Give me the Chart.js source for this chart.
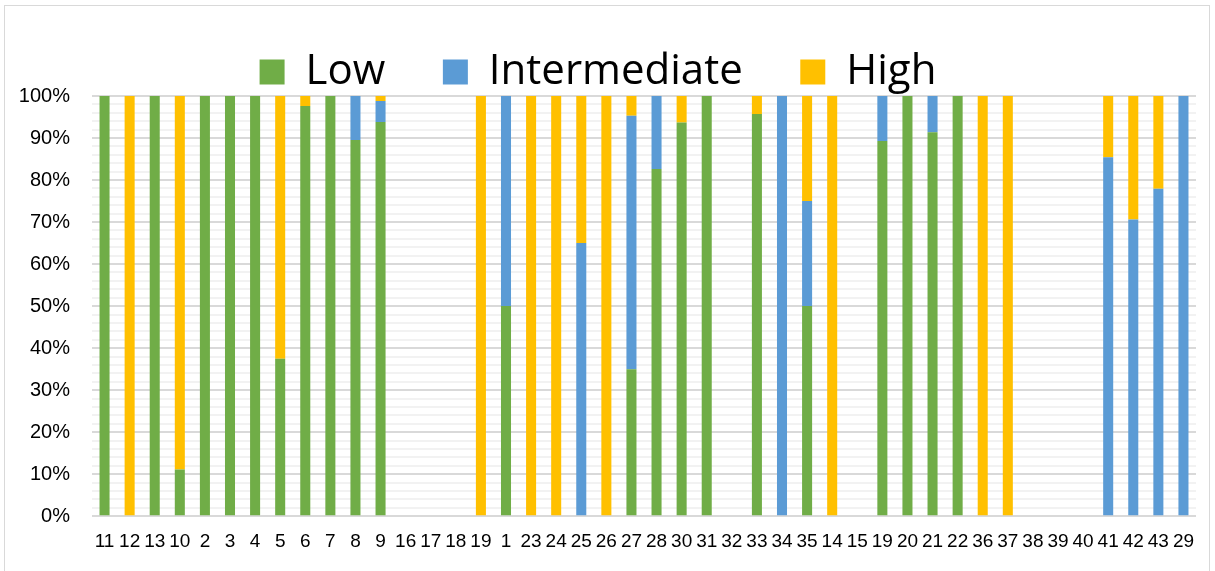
<!DOCTYPE html>
<html>
<head>
<meta charset="utf-8">
<script src="https://cdn.jsdelivr.net/npm/chart.js@4.4.1/dist/chart.umd.min.js"></script>
<style>
	body { margin: 0; background: #fff; }
	#wrap { position: relative; width: 1215px; height: 571px; }
	#frame { position: absolute; left: 4px; top: 5px; width: 1204px; height: 580px; border: 1px solid #d9d9d9; }
	canvas { position: absolute; left: 0; top: 0; }
</style>
</head>
<body>
<div id="wrap">
	<div id="frame"></div>
	<canvas id="stackChart" width="1215" height="571"></canvas>
</div>
<script>
const labels = [ '11', '12', '13', '10', '2', '3', '4', '5', '6', '7', '8', '9', '16', '17', '18', '19', '1', '23', '24', '25', '26', '27', '28', '30', '31', '32', '33', '34', '35', '14', '15', '19', '20', '21', '22', '36', '37', '38', '39', '40', '41', '42', '43', '29' ];

// percent of each group
const low = [ 100, 0, 100, 11.1, 100, 100, 100, 37.5, 97.6, 100, 89.5, 93.8, 0, 0, 0, 0, 50, 0, 0, 0, 0, 35, 82.6, 93.7, 100, 0, 95.7, 0, 50, 0, 0, 89.3, 100, 91.4, 100, 0, 0, 0, 0, 0, 0, 0, 0, 0 ];
const intermediate = [ 0, 0, 0, 0, 0, 0, 0, 0, 0, 0, 10.5, 5, 0, 0, 0, 0, 50, 0, 0, 65, 0, 60.3, 17.4, 0, 0, 0, 0, 100, 25, 0, 0, 10.7, 0, 8.6, 0, 0, 0, 0, 0, 0, 85.4, 70.6, 77.9, 100 ];
const high = [ 0, 100, 0, 88.9, 0, 0, 0, 62.5, 2.4, 0, 0, 1.2, 0, 0, 0, 100, 0, 100, 100, 35, 100, 4.7, 0, 6.3, 0, 0, 4.3, 0, 25, 100, 0, 0, 0, 0, 0, 100, 100, 0, 0, 0, 14.6, 29.4, 22.1, 0 ];

const ctx = document.getElementById('stackChart').getContext('2d');

const stackChart = new Chart(ctx, {
	type: 'bar',

	data: {
		labels: labels,
		datasets: [
			{ label: 'Low', data: low, backgroundColor: '#70AD47' },
			{ label: 'Intermediate', data: intermediate, backgroundColor: '#5B9BD5' },
			{ label: 'High', data: high, backgroundColor: '#FFC000' }
		]
	},

	options: {
		responsive: false,
		animation: false,
		barPercentage: 0.4,
		categoryPercentage: 1,
		layout: {
			padding: { left: 0, right: 19, top: 48, bottom: 4 }
		},
		scales: {
			x: {
				stacked: true,
				grid: { display: false, drawTicks: false },
				border: { display: false },
				ticks: {
					autoSkip: false,
					maxRotation: 0,
					padding: 14,
					color: '#000',
					font: { family: 'Liberation Sans', size: 19 }
				}
			},
			y: {
				stacked: true,
				min: 0,
				max: 100,
				border: { display: false },
				afterFit: function(scale) {
					scale.width = 92;
				},
				grid: {
					drawTicks: false,
					lineWidth: 2,
					color: function(c) {
						return c.tick.value % 10 === 0 ? '#d9d9d9' : '#f2f2f2';
					}
				},
				ticks: {
					stepSize: 2,
					autoSkip: false,
					padding: 22,
					color: '#000',
					font: { family: 'Liberation Sans', size: 20 },
					callback: function(value) {
						return value % 10 === 0 ? value + '%' : '';
					}
				}
			}
		},
		plugins: {
			legend: {
				position: 'top',
				maxHeight: 48,
				labels: {
					boxWidth: 25,
					boxHeight: 25,
					padding: 3,
					color: '#000',
					font: { family: 'Open Sans', size: 42 },
					generateLabels: function(chart) {
						const items = Chart.defaults.plugins.legend.labels.generateLabels(chart);
						// wider gaps between legend entries
						items.forEach(function(item, i) {
							if (i < items.length - 1) item.text += '     ';
						});
						return items;
					}
				}
			},
			tooltip: { enabled: false }
		}
	}
});
</script>
</body>
</html>
